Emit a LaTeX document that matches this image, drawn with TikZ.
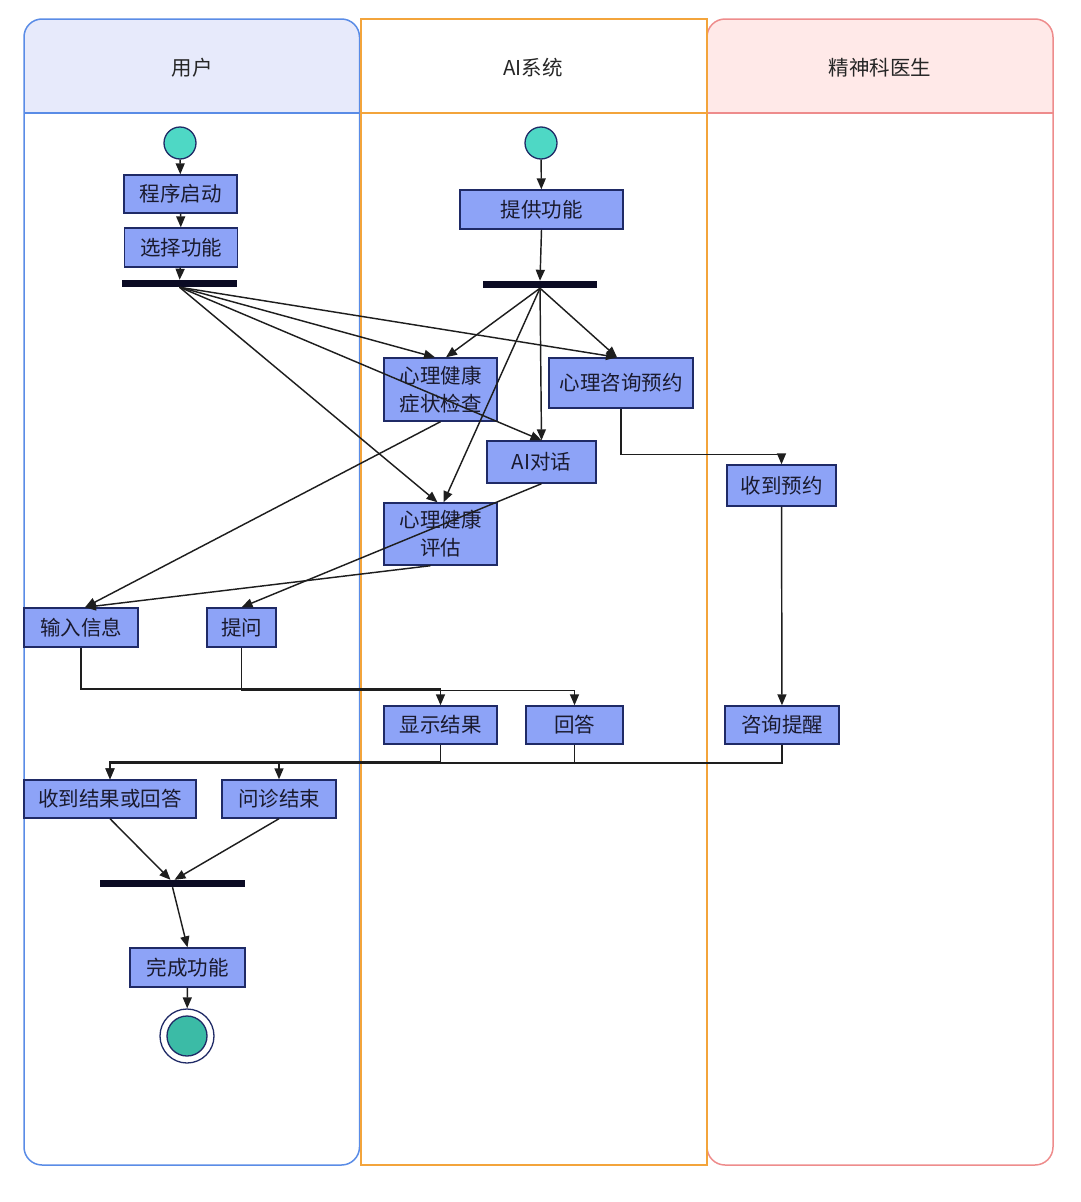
\documentclass[tikz,border=0pt]{standalone}
\usepackage{fontspec}
\setmainfont{Noto Sans CJK SC}
\usetikzlibrary{arrows.meta,calc}
\definecolor{nodefill}{HTML}{8DA3F7}
\definecolor{nodeborder}{HTML}{1F2A66}
\definecolor{textcol}{HTML}{1A1A2E}
\definecolor{barcol}{HTML}{0B0B24}
\definecolor{linecol}{HTML}{1E1E1E}
\definecolor{startfill}{HTML}{4ED8C5}
\definecolor{endfill}{HTML}{3BBBA6}
\definecolor{userfill}{HTML}{E7EAFB}
\definecolor{userborder}{HTML}{5A8CE6}
\definecolor{aiborder}{HTML}{F3A43B}
\definecolor{docfill}{HTML}{FFE9E8}
\definecolor{docborder}{HTML}{EE8C8C}
\tikzset{
  act/.style={draw=nodeborder, fill=nodefill, line width=1.4pt, minimum height=38pt,
    inner sep=0pt, font=\fontsize{20.5}{28}\selectfont, text=textcol, align=center},
  barnode/.style={fill=barcol, draw=none, minimum height=7pt, inner sep=0pt},
  startc/.style={circle, draw=nodeborder, fill=startfill, line width=1.3pt, minimum size=32pt, inner sep=0pt},
  endouter/.style={circle, draw=nodeborder, fill=white, line width=1.3pt, minimum size=54pt, inner sep=0pt},
  endinner/.style={circle, draw=nodeborder, fill=endfill, line width=1.3pt, minimum size=40pt, inner sep=0pt},
  flow/.style={draw=linecol, line width=1.45pt, -{Triangle[length=11pt,width=9pt]}},
  lanehead/.style={font=\fontsize{20.5}{24}\selectfont, text=black!85}
}
\begin{document}
\begin{tikzpicture}[x=1pt,y=-1pt]
\useasboundingbox (0,0) rectangle (1080,1202);
% lanes
\begin{scope}
  \clip (0,0) rectangle (1080,113);
  \fill[userfill, rounded corners=18pt] (24,19) rectangle (360,150);
  \fill[docfill, rounded corners=18pt] (707,19) rectangle (1053,150);
\end{scope}
\draw[userborder, line width=1.5pt, rounded corners=18pt] (24,19) rectangle (359.5,1165);
\draw[userborder, line width=1.5pt] (24,113) -- (359.5,113);
\draw[docborder, line width=1.5pt, rounded corners=18pt] (707,19) rectangle (1053,1165);
\draw[docborder, line width=1.5pt] (707,113) -- (1053,113);
\draw[aiborder, line width=1.5pt] (361,19) rectangle (707,1165);
\draw[aiborder, line width=1.5pt] (361,113) -- (707,113);
\node[lanehead] (h1) at (192,68) {用户};
\node[lanehead] (h2) at (533,68) {AI系统};
\node[lanehead] (h3) at (880,68) {精神科医生};

% nodes
\node[startc] (s1) at (180,143) {};
\node[startc] (s2) at (541,143) {};
\node[act, minimum width=113pt, minimum height=38pt] (qidong) at (180.5,194) {程序启动};
\node[act, minimum width=113pt, minimum height=39pt] (xuanze) at (181,247.5) {选择功能};
\node[barnode, minimum width=115pt] (bar1) at (179.5,283.5) {};
\node[act, minimum width=163pt, minimum height=39pt] (tigong) at (541.5,209.5) {提供功能};
\node[barnode, minimum width=114pt] (bar2) at (540,284.5) {};
\node[act, minimum width=113pt, minimum height=63pt] (jiancha) at (440.5,389.5) {心理健康\\症状检查};
\node[act, minimum width=144pt, minimum height=50pt] (yuyue) at (621,383) {心理咨询预约};
\node[act, minimum width=109pt, minimum height=42pt] (duihua) at (541.5,462) {AI对话};
\node[act, minimum width=113pt, minimum height=62pt] (pinggu) at (440.5,534) {心理健康\\评估};
\node[act, minimum width=109pt, minimum height=41pt] (shoudao) at (781.5,485.5) {收到预约};
\node[act, minimum width=114pt, minimum height=39pt] (shuru) at (81,627.5) {输入信息};
\node[act, minimum width=69pt, minimum height=39pt] (tiwen) at (241.5,627.5) {提问};
\node[act, minimum width=113pt] (xianshi) at (440.5,725) {显示结果};
\node[act, minimum width=97pt] (huida) at (574.5,725) {回答};
\node[act, minimum width=114pt] (tixing) at (782,725) {咨询提醒};
\node[act, minimum width=172pt] (jieguo) at (110,799) {收到结果或回答};
\node[act, minimum width=114pt] (jieshu) at (279,799) {问诊结束};
\node[barnode, minimum width=145pt] (bar3) at (172.5,883.5) {};
\node[act, minimum width=115pt, minimum height=39pt] (wancheng) at (187.5,967.5) {完成功能};
\node[endouter] (endo) at (187,1036) {};
\node[endinner] (endi) at (endo.center) {};

% connectors
\draw[flow] (s1) -- (qidong);
\draw[flow] (qidong) -- (xuanze);
\draw[flow] (xuanze) -- (bar1);
\draw[flow] (s2) -- (tigong);
\draw[flow] (tigong.south) -- (bar2.north);

\draw[flow] (bar1.south) -- ($(jiancha.north)+(-5.5,0)$);
\draw[flow] (bar1.south) -- ($(yuyue.north)+(-4,0)$);
\draw[flow] (bar1.south) -- (duihua.north);
\draw[flow] (bar1.south) -- ($(pinggu.north)+(-3,0)$);

\draw[flow] (bar2.south) -- ($(jiancha.north)+(5.5,0)$);
\draw[flow] (bar2.south) -- ($(yuyue.north)+(-4,0)$);
\draw[flow] (bar2.south) -- (duihua.north);
\draw[flow] (bar2.south) -- ($(pinggu.north)+(3,0)$);

\draw[flow] (jiancha.south) -- ($(shuru.north)+(4,0)$);
\draw[flow] ($(pinggu.south)+(-10,0)$) -- ($(shuru.north)+(4,0)$);
\draw[flow] (duihua.south) -- (tiwen.north);

\draw[flow] (yuyue.south) -- ++(0,46) -| (shoudao.north);
\draw[flow] (shoudao) -- (tixing);

\draw[flow] (shuru.south) -- ++(0,41.5) -| (xianshi.north);
\draw[flow] (tiwen.south) -- ++(0,43) -| (huida.north);

\draw[flow] (xianshi.south) -- ++(0,17) -| (jieguo.north);
\draw[flow] (huida.south) -- ++(0,18.5) -| (jieguo.north);
\draw[flow] (tixing.south) -- ++(0,18.5) -| (jieshu.north);

\draw[flow] (jieguo.south) -- ($(bar3.north)+(-2,0)$);
\draw[flow] (jieshu.south) -- ($(bar3.north)+(2,0)$);
\draw[flow] (bar3.south) -- (wancheng.north);
\draw[flow] (wancheng) -- (endo);
\end{tikzpicture}
\end{document}
